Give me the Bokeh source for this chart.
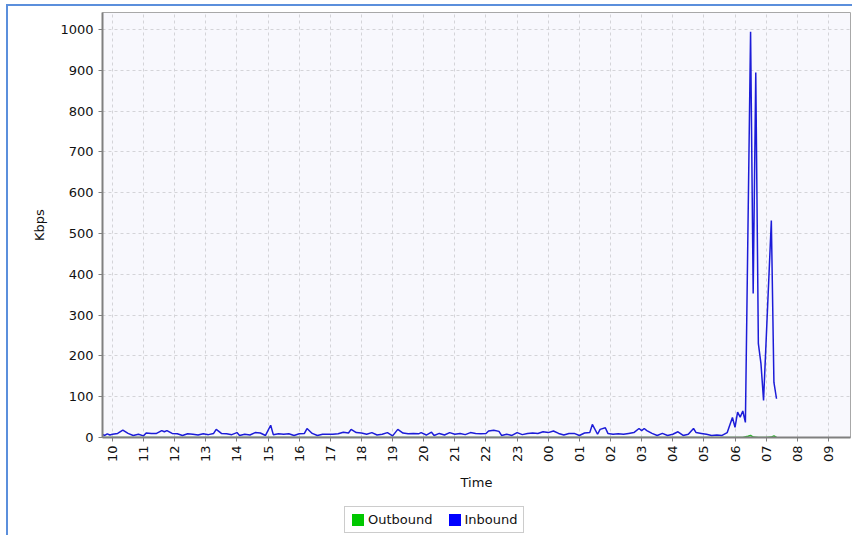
import math
from bokeh.plotting import figure
from bokeh.layouts import column
from bokeh.models import (ColumnDataSource, FixedTicker, Legend, LegendItem, Range1d)
from bokeh.embed import file_html
from bokeh.resources import INLINE

# ---------------- data ----------------
hour_labels = ["10", "11", "12", "13", "14", "15", "16", "17", "18", "19", "20", "21",
               "22", "23", "00", "01", "02", "03", "04", "05", "06", "07", "08", "09"]

in_times = ["09:40", "09:45", "09:50", "09:55", "10:00", "10:10", "10:20", "10:30", "10:40", "10:50",
            "11:00", "11:05", "11:15", "11:25", "11:35", "11:40", "11:45", "11:55", "12:05", "12:15",
            "12:25", "12:35", "12:45", "12:55", "13:05", "13:15", "13:20", "13:30", "13:40", "13:50",
            "14:00", "14:05", "14:15", "14:25", "14:35", "14:45", "14:55", "15:05", "15:10", "15:20",
            "15:30", "15:40", "15:50", "16:00", "16:10", "16:15", "16:25", "16:35", "16:45", "16:55",
            "17:05", "17:15", "17:25", "17:35", "17:40", "17:50", "18:00", "18:10", "18:20", "18:30",
            "18:40", "18:50", "19:00", "19:10", "19:20", "19:30", "19:40", "19:50", "19:55", "20:05",
            "20:15", "20:20", "20:30", "20:40", "20:50", "21:00", "21:10", "21:20", "21:30", "21:40",
            "21:50", "22:00", "22:05", "22:15", "22:25", "22:30", "22:40", "22:50", "23:00", "23:10",
            "23:20", "23:30", "23:40", "23:50", "00:00", "00:10", "00:20", "00:30", "00:40", "00:50",
            "01:00", "01:10", "01:20", "01:25", "01:35", "01:40", "01:50", "01:55", "02:05", "02:15",
            "02:25", "02:35", "02:45", "02:55", "03:00", "03:05", "03:10", "03:20", "03:30", "03:40",
            "03:50", "04:00", "04:10", "04:20", "04:30", "04:40", "04:45", "04:55", "05:05", "05:15",
            "05:25", "05:35", "05:45", "05:55", "06:00", "06:05", "06:10", "06:15", "06:20", "06:30",
            "06:35", "06:40", "06:45", "06:50", "06:55", "07:10", "07:15", "07:20"]
inbound = [8, 5, 9, 6, 8, 10, 18, 10, 5, 8,
           4, 11, 10, 10, 17, 14, 17, 10, 9, 5,
           9, 8, 6, 9, 7, 10, 20, 10, 9, 7,
           12, 5, 8, 6, 12, 11, 5, 30, 7, 9,
           8, 9, 5, 9, 10, 22, 10, 5, 8, 8,
           8, 9, 13, 11, 20, 12, 11, 8, 12, 6,
           8, 12, 4, 20, 11, 9, 10, 9, 12, 6,
           13, 5, 10, 6, 12, 8, 10, 7, 12, 10,
           9, 10, 16, 18, 15, 5, 8, 5, 12, 7,
           10, 11, 10, 14, 12, 16, 10, 6, 10, 10,
           5, 11, 12, 32, 8, 20, 24, 10, 8, 9,
           8, 10, 12, 22, 17, 22, 17, 10, 5, 10,
           5, 8, 14, 5, 8, 22, 12, 10, 8, 5,
           6, 5, 12, 49, 25, 62, 50, 65, 37, 995,
           353, 895, 230, 181, 91, 532, 135, 95]

out_times = ["09:40", "12:00", "15:00", "18:00", "21:00", "00:00", "03:00", "06:00", "06:15",
             "06:25", "06:30", "06:35", "06:45", "07:00", "07:10", "07:15", "07:20"]
outbound = [0, 0, 0, 0, 0, 0, 0, 0, 0,
            3, 5, 1, 0, 0, 1, 4, 0]


def to_x(t):
    hh, mm = t.split(":")
    h = int(hh) + int(mm) / 60.0
    if h < 9.5:
        h += 24
    return h - 10


in_src = ColumnDataSource(dict(x=[to_x(t) for t in in_times], y=inbound))
out_src = ColumnDataSource(dict(x=[to_x(t) for t in out_times], y=outbound))

FONT = "DejaVu Sans"

p = figure(width=844, height=494, output_backend="svg", toolbar_location=None,
           x_range=Range1d(-0.32, 23.71), y_range=Range1d(0, 1042),
           min_border_left=94, min_border_right=2, min_border_top=6, min_border_bottom=63)

p.background_fill_color = "#f8f8fd"
p.border_fill_color = "white"
p.outline_line_color = "#a8a8a8"
p.outline_line_width = 1

p.line("x", "y", source=out_src, line_color="#30b030", line_width=1.5)
p.line("x", "y", source=in_src, line_color="#1c1cd8", line_width=1.5)

# axes
p.xaxis.ticker = FixedTicker(ticks=list(range(24)))
p.xaxis.major_label_overrides = {i: lab for i, lab in enumerate(hour_labels)}
p.xaxis.major_label_orientation = math.pi / 2
p.yaxis.ticker = FixedTicker(ticks=list(range(0, 1001, 100)))
p.xaxis.axis_label = "Time"
p.yaxis.axis_label = "Kbps"
for ax in (p.xaxis[0], p.yaxis[0]):
    ax.axis_line_color = "#808080"
    ax.axis_line_width = 2
    ax.major_tick_line_color = "#808080"
    ax.major_tick_in = 0
    ax.major_tick_out = 4
    ax.minor_tick_line_color = None
    ax.major_label_text_font = FONT
    ax.major_label_text_font_size = "13px"
    ax.major_label_text_color = "#111111"
    ax.axis_label_text_font = FONT
    ax.axis_label_text_font_size = "13px"
    ax.axis_label_text_font_style = "normal"
    ax.axis_label_text_color = "#111111"
p.yaxis.major_label_standoff = 5
p.yaxis.axis_label_standoff = 10
p.xaxis.major_label_standoff = 4
p.xaxis.axis_label_standoff = 10

p.grid.grid_line_color = "#d4d4d8"
p.grid.grid_line_dash = "3 3"
p.grid.grid_line_width = 1

# legend strip below the chart, with square swatches
leg = figure(width=844, height=35, output_backend="svg", toolbar_location=None,
             x_range=Range1d(0, 1), y_range=Range1d(0, 1),
             x_axis_location=None, y_axis_location=None,
             min_border_left=0, min_border_right=0, min_border_top=0, min_border_bottom=0)
leg.grid.visible = False
leg.outline_line_color = None
leg.background_fill_color = "white"
sq_out = leg.quad(left=[-5], right=[-4], bottom=[-5], top=[-4],
                  fill_color="#00c800", line_color=None)
sq_in = leg.quad(left=[-5], right=[-4], bottom=[-5], top=[-4],
                 fill_color="#0000ff", line_color=None)
legend = Legend(items=[LegendItem(label="Outbound", renderers=[sq_out]),
                       LegendItem(label="Inbound", renderers=[sq_in])],
                orientation="horizontal", location=(242, 2),
                label_text_font=FONT, label_text_font_size="13px", label_text_color="#111111",
                border_line_color="#999999", border_line_width=1,
                glyph_width=15, glyph_height=15, label_height=14, label_standoff=3, spacing=14,
                padding=5, margin=0, background_fill_color="white")
leg.add_layout(legend, "center")

page = column(p, leg, spacing=0,
              styles={"margin-left": "6px", "margin-top": "4px",
                      "border-left": "2px solid #5b8fdc", "border-top": "2px solid #5b8fdc"})

open("out.html", "w").write(file_html(page, INLINE))
